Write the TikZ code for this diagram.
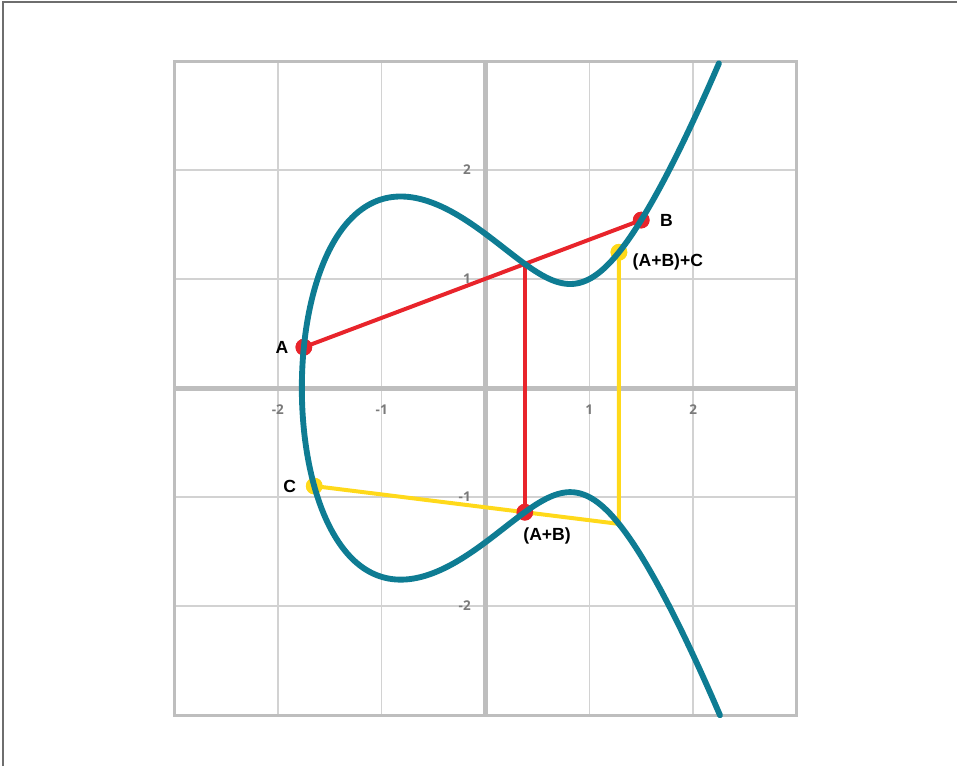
\documentclass[tikz,border=0pt]{standalone}
\usepackage{fontspec}
\setmainfont{Liberation Sans}
\newfontfamily\tickfont{Open Sans}
\usepackage{tikz}
\usetikzlibrary{arrows.meta, calc, positioning}
\definecolor{kurve}{HTML}{0E7C93}
\definecolor{rot}{HTML}{E8242B}
\definecolor{gelb}{HTML}{FFD91A}
\definecolor{gitter}{HTML}{D2D2D2}
\definecolor{achse}{HTML}{BEBEBE}
\definecolor{zahl}{HTML}{7A7A7A}
\definecolor{rand}{HTML}{6E6E6E}

\begin{document}
\begin{tikzpicture}[
        x=3.114cm, y=3.27cm,
        gridline/.style={draw=gitter, line width=1.2pt},
        frameline/.style={draw=achse, line width=2.6pt},
        axisline/.style={draw=achse, line width=4.3pt},
        curveline/.style={draw=kurve, line width=5pt, line cap=round, line join=round},
        redline/.style={draw=rot, line width=3.4pt},
        yellowline/.style={draw=gelb, line width=3.4pt},
        dot/.style={circle, inner sep=0pt, minimum size=0.5cm},
        tick/.style={font=\tickfont\bfseries\fontsize{11.5}{13}\selectfont, text=zahl, inner sep=0pt},
        lbl/.style={font=\bfseries\fontsize{15}{18}\selectfont, inner sep=0pt}
      ]
      \useasboundingbox (-4.677,-3.468) rectangle (4.542,3.560);
      % Rand oben und links
      \draw[rand, line width=1.7pt] (-4.648,-3.468) -- (-4.648,3.546) -- (4.542,3.546);

      % Gitter, Rahmen, Achsen
      \foreach \k in {-2,-1,1,2} {
        \draw[gridline] (\k,-3) -- (\k,3);
        \draw[gridline] (-3,\k) -- (3,\k);
      }
      \draw[frameline] (-3,-3) rectangle (3,3);
      \draw[axisline] (-3,0) -- (3,0);
      \draw[axisline] (0,-3) -- (0,3);

      % Achsenbeschriftung
      \foreach \k in {-2,-1,1,2} {
        \node[tick] (xt\k) at (\k,-0.2) {\k};
        \node[tick, anchor=east] (yt\k) at (-0.14,\k) {\k};
      }

      % Punkte
      \node[dot, fill=rot]  (a)   at (-1.75,0.375) {};
      \node[dot, fill=rot]  (b)   at (1.5,1.5411) {};
      \coordinate (p) at (0.3787,1.1388);
      \node[dot, fill=rot]  (ab)  at (0.3787,-1.1388) {};
      \node[dot, fill=gelb] (c)   at (-1.65,-0.8988) {};
      \coordinate (q) at (1.2853,-1.2460);
      \node[dot, fill=gelb] (abc) at (1.2853,1.2460) {};

      % Linien
      \draw[redline] (a.center) -- (b.center);
      \draw[redline] (p) -- (ab.center);
      \draw[yellowline] (c.center) -- (q) -- (abc.center);
      \node[dot, fill=rot]  at (a)   {};
      \node[dot, fill=rot]  at (b)   {};
      \node[dot, fill=rot]  at (ab)  {};
      \node[dot, fill=gelb] at (c)   {};
      \node[dot, fill=gelb] at (abc) {};

      % Kurve y^2 = x^3 - 2x + 2
      \draw[curveline] plot[domain=-2.007:2.007, samples=240, variable=\t, smooth]
        ({-1.76929+\t*\t}, {\t*sqrt(\t*\t*\t*\t - 5.30787*\t*\t + 7.39117)});

      % Beschriftungen
      \node[lbl, left=0.2cm of a]              (la)   {A};
      \node[lbl, right=0.3cm of b]             (lb)   {B};
      \node[lbl, left=0.28cm of c]             (lc)   {C};
      \node[lbl, below right=0.28cm and -0.23cm of ab] (lab) {(A+B)};
      \node[lbl, right=0.15cm of abc, yshift=-0.3cm]   (labc) {(A+B)+C};
    \end{tikzpicture}
\end{document}
